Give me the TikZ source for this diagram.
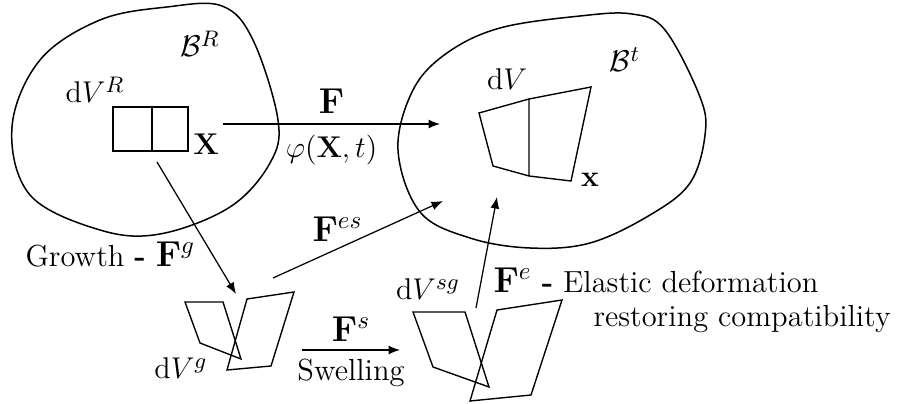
\documentclass[tikz,border=0pt]{standalone}
\usepackage{amsmath,amssymb}
\usepackage{tikz}
\usetikzlibrary{arrows.meta}

\newcommand{\bigF}{\fontsize{14.5}{17}\selectfont}

\begin{document}
\begin{tikzpicture}[
x=0.4pt, y=-0.4pt,
obj/.style={font=\fontsize{12.2}{14.6}\selectfont, inner sep=0pt, anchor=base},
arrowlabel/.style={font=\fontsize{12.2}{14.6}\selectfont, inner sep=2pt},
arrow/.style={-{Latex[length=4.6pt,width=3.6pt]}, line width=0.5pt},
body/.style={line width=0.6pt},
elem/.style={line width=0.55pt, line join=miter} ]

\useasboundingbox (0,0) rectangle (904,404);

\draw[body] plot[smooth cycle, tension=0.6] coordinates {(12,127) (30,195) (100,230) (160,234) (230,207) (270,163) (278,120) (253,40) (222,6) (167,7) (100,20) (40,60)};

\draw[body] plot[smooth cycle, tension=0.6] coordinates {(398,150) (413,90) (447,53) (500,28) (580,16) (632,14) (665,30) (700,97) (705,135) (690,183) (650,215) (590,243) (530,248) (470,238) (420,212)};

\draw[elem] (113,107) rectangle (188,151) (152,107) -- (152,151);

\draw[elem] (479,113) -- (529,99) -- (591,87) -- (571,181) -- (529,176) -- (493,166) -- cycle (529,99) -- (529,176);

\draw[elem] (185,302) -- (223,302) -- (241,359) -- (200,343) -- cycle;
\draw[elem] (247,299) -- (294,292) -- (271,366) -- (227,370) -- cycle;

\draw[elem] (413,312) -- (465,312) -- (489,387) -- (433,367) -- cycle;
\draw[elem] (497,310) -- (562,300) -- (531,395) -- (470,401) -- cycle;

\node[obj](BR) at (200,57) {$\mathcal{B}^R$};
\node[obj](dVR) at (95,103) {$\mathrm{d}V^R$};
\node[obj](X) at (206,155) {$\mathbf{X}$};
\node[obj](Bt) at (625,72) {$\mathcal{B}^t$};
\node[obj](dV) at (507,90) {$\mathrm{d}V$};
\node[obj](x) at (590,187) {$\mathbf{x}$};
\node[obj](dVg) at (181,379) {$\mathrm{d}V^g$};
\node[obj](dVsg) at (428,300) {$\mathrm{d}V^{sg}$};
\node[obj, anchor=base west](growth) at (25,267) {Growth \textbf{-} {\bigF$\mathbf{F}^g$}};
\node[obj, anchor=base west](Fes) at (312,242) {\bigF$\mathbf{F}^{es}$};
\node[obj, anchor=base west](elastic) at (493,293) {{\bigF$\mathbf{F}^e$} \textbf{-} Elastic deformation};
\node[obj, anchor=base west](compat) at (593,327) {restoring compatibility};

\coordinate (XR) at (223,124);
\coordinate (xt) at (440,124);
\coordinate (gR) at (157,162);
\coordinate (gg) at (236,294);
\coordinate (esg) at (273,278);
\coordinate (est) at (443,201);
\coordinate (sg) at (302,350);
\coordinate (ssg) at (400,350);
\coordinate (esg2) at (476,308);
\coordinate (et) at (497,197);

\draw[arrow] (XR) -- node[above=2pt, arrowlabel, font=\bigF] {$\mathbf{F}$} node[below=2pt, arrowlabel] {$\varphi(\mathbf{X},t)$} (xt);

\draw[arrow] (gR) -- (gg);

\draw[arrow] (esg) -- (est);

\draw[arrow] (sg) -- node[above=1pt, arrowlabel, font=\bigF] {$\mathbf{F}^s$} node[below=1.5pt, arrowlabel] {Swelling} (ssg);

\draw[arrow] (esg2) -- (et);
\end{tikzpicture}
\end{document}
